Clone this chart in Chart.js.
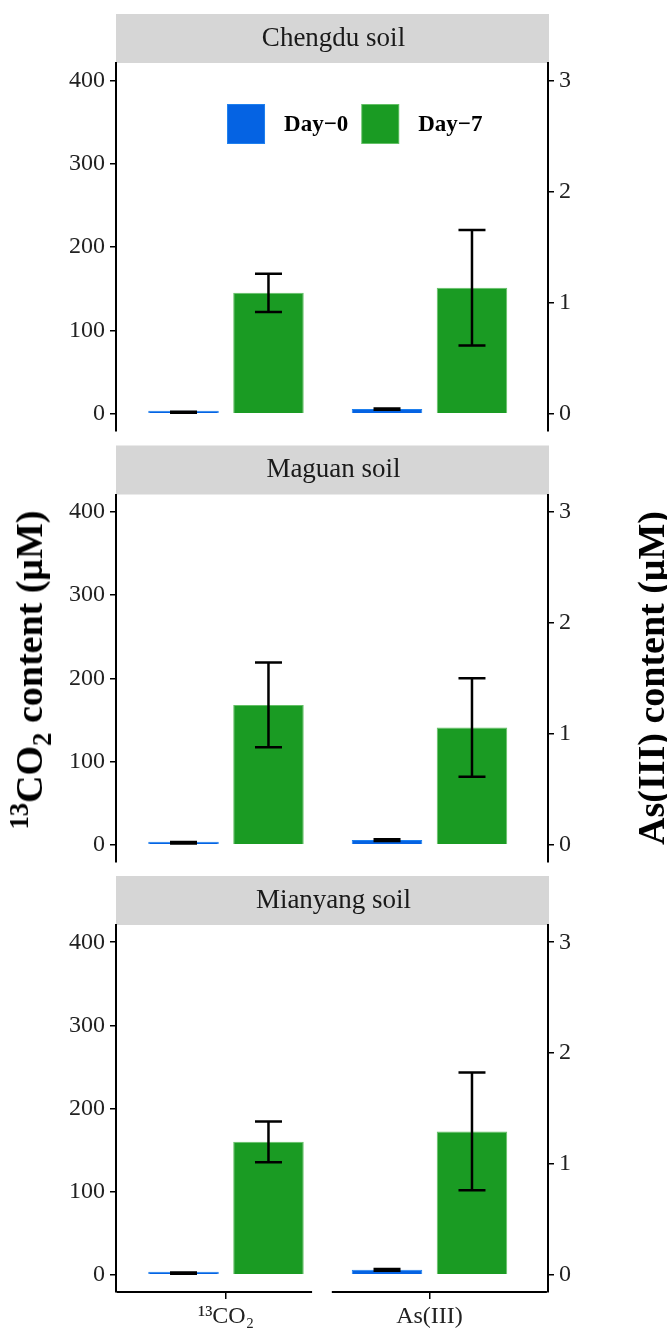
<!DOCTYPE html>
<html>
<head>
<meta charset="utf-8">
<script src="https://cdn.jsdelivr.net/npm/chart.js@4.4.1/dist/chart.umd.min.js"></script>
<style>
  body { margin: 0; background: #fff; width: 667px; height: 1332px; position: relative; overflow: hidden; font-family: "Liberation Serif", "Times New Roman", serif; }
  canvas { position: absolute; left: 0; }
  .ytitle { position: absolute; font-weight: bold; font-size: 38px; line-height: 1; white-space: nowrap; color: #000;
            transform: translate(-50%, -50%) rotate(-90deg); }
  .ytitle sup, .ytitle sub { font-size: 0.7em; line-height: 0; }
</style>
</head>
<body>
<canvas id="p0" width="667" height="440" style="top:0"></canvas>
<canvas id="p1" width="667" height="432" style="top:440px"></canvas>
<canvas id="p2" width="667" height="460" style="top:872px"></canvas>
<div class="ytitle" style="left:29px;top:670px"><sup>13</sup>CO<sub>2</sub> content (μM)</div>
<div class="ytitle" style="left:651px;top:678px">As(III) content (μM)</div>
<script>
// values
const soils = ['Chengdu soil', 'Maguan soil', 'Mianyang soil'];
const categories = ['¹³CO₂', 'As(III)'];
const days = ['Day−0', 'Day−7'];

const co2Day0 = [1.8, 2.4, 2.0];
const co2Day0Err = [0.6, 0.8, 0.8];
const co2Day7 = [145, 168, 160];
const co2Day7Err = [23, 51, 24.5];

const asDay0 = [0.042, 0.042, 0.045];
const asDay0Err = [0.006, 0.008, 0.008];
const asDay7 = [1.134, 1.056, 1.293];
const asDay7Err = [0.52, 0.444, 0.531];

const leftTicks = [0, 100, 200, 300, 400];
const rightTicks = [0, 1, 2, 3];

const blue = '#0563e3', blueEdge = '#1f80ee';
const green = '#1a9b23', greenEdge = '#63c066';
const RATIO = 400 / 3; // left axis units per right axis unit

Chart.defaults.font.family = '"Liberation Serif", "Times New Roman", serif';
Chart.defaults.color = '#222';

// grey strip behind the title, only over the plot width
const stripPlugin = {
  id: 'strip',
  beforeDraw(chart) {
    const t = chart.titleBlock, a = chart.chartArea, ctx = chart.ctx;
    ctx.save();
    ctx.fillStyle = '#d6d6d6';
    ctx.fillRect(a.left, t.top, a.right - a.left + 1, t.height);
    ctx.restore();
  }
};

const errorBars = {
  id: 'errorBars',
  afterDatasetsDraw(chart) {
    const ctx = chart.ctx;
    ctx.save();
    ctx.strokeStyle = '#000';
    ctx.lineWidth = 2.5;
    chart.data.datasets.forEach((ds, i) => {
      const meta = chart.getDatasetMeta(i);
      const ys = chart.scales[meta.yAxisID];
      meta.data.forEach((bar, j) => {
        const v = ds.data[j].y, e = ds.errors[j];
        const top = ys.getPixelForValue(v + e), bot = ys.getPixelForValue(v - e);
        ctx.beginPath();
        ctx.moveTo(bar.x, top); ctx.lineTo(bar.x, bot);
        ctx.moveTo(bar.x - 13.5, top); ctx.lineTo(bar.x + 13.5, top);
        ctx.moveTo(bar.x - 13.5, bot); ctx.lineTo(bar.x + 13.5, bot);
        ctx.stroke();
      });
    });
    ctx.restore();
  }
};

const dayLegend = {
  id: 'dayLegend',
  afterDraw(chart, args, opts) {
    if (!opts.show) return;
    const ctx = chart.ctx, a = chart.chartArea;
    const seen = [];
    chart.data.datasets.forEach(ds => {
      if (!seen.find(s => s.label === ds.label)) seen.push(ds);
    });
    let x = a.left + (a.right - a.left) * 0.257;
    const yc = a.top + 61;
    ctx.save();
    ctx.font = 'bold 23px "Liberation Serif", serif';
    ctx.textBaseline = 'middle';
    seen.forEach(ds => {
      ctx.fillStyle = ds.borderColor;
      ctx.fillRect(x, yc - 20, 38, 40);
      ctx.fillStyle = ds.backgroundColor;
      ctx.fillRect(x + 1, yc - 19, 36, 38);
      x += 38 + 19;
      ctx.fillStyle = '#000';
      ctx.fillText(ds.label, x, yc + 1);
      x += ctx.measureText(ds.label).width + 13;
    });
    ctx.restore();
  }
};

// bottom axis is split between the two groups
const splitAxis = {
  id: 'splitAxis',
  afterDraw(chart, args, opts) {
    if (!opts.segments) return;
    const ctx = chart.ctx, xs = chart.scales.x, y = chart.chartArea.bottom;
    ctx.save();
    ctx.strokeStyle = '#000';
    ctx.lineWidth = 2;
    opts.segments.forEach(s => {
      ctx.beginPath();
      ctx.moveTo(xs.getPixelForValue(s[0]), y);
      ctx.lineTo(xs.getPixelForValue(s[1]), y);
      ctx.stroke();
    });
    ctx.restore();
  }
};

// y tick labels sit well inside the axis range, so no extra end padding
const fitY = w => s => { s.width = w; s.paddingTop = 0; s.paddingBottom = 0; };

const pads = [{ top: 14, bottom: 9 }, { top: 5.5, bottom: 10 }, { top: 4, bottom: 0 }];

soils.forEach((soil, i) => {
  const last = i === soils.length - 1;
  const bar = (label, x, y, err, axis, fill, edge) => ({
    label, data: [{ x, y }], errors: [err], yAxisID: axis,
    backgroundColor: fill, borderColor: edge, borderWidth: 1, minBarLength: 3,
    categoryPercentage: 0.835, barPercentage: 0.83, skipNull: true
  });
  new Chart(document.getElementById('p' + i), {
    type: 'bar',
    data: {
      datasets: [
        bar(days[0], 0, co2Day0[i], co2Day0Err[i], 'y', blue, blueEdge),
        bar(days[1], 0, co2Day7[i], co2Day7Err[i], 'y', green, greenEdge),
        bar(days[0], 1, asDay0[i], asDay0Err[i], 'y2', blue, blueEdge),
        bar(days[1], 1, asDay7[i], asDay7Err[i], 'y2', green, greenEdge)
      ]
    },
    options: {
      responsive: false,
      animation: false,
      devicePixelRatio: 1,
      layout: { padding: { left: 0, right: 0, top: pads[i].top, bottom: pads[i].bottom } },
      plugins: {
        legend: { display: false },
        tooltip: { enabled: false },
        title: {
          display: true, text: soil, color: '#1a1a1a',
          font: { size: 27, weight: 'normal', lineHeight: 1.2 },
          padding: { top: 8.5, bottom: 8.1 }
        },
        dayLegend: { show: i === 0 },
        splitAxis: { segments: last ? [[-0.537, 0.423], [0.52, 1.577]] : null }
      },
      scales: {
        x: {
          type: 'linear', display: last, offset: false,
          min: -0.5405, max: 1.5823,
          afterBuildTicks: s => { s.ticks = categories.map((c, k) => ({ value: k })); },
          ticks: { callback: v => categories[v], font: { size: 24 }, color: '#222', padding: 3, maxRotation: 0 },
          grid: { offset: false, drawOnChartArea: false, drawTicks: true, tickLength: 7, color: '#000', lineWidth: 1.5 },
          border: { display: false },
          afterFit: s => { s.height = last ? 40 : 0; }
        },
        y: {
          position: 'left', min: -20.7, max: 420.7,
          afterBuildTicks: s => { s.ticks = leftTicks.map(v => ({ value: v })); },
          ticks: { font: { size: 24 }, color: '#222', padding: 5 },
          grid: { drawOnChartArea: false, drawTicks: true, tickLength: 6, color: '#000', lineWidth: 1.5 },
          border: { display: true, color: '#000', width: 2 },
          afterFit: fitY(116)
        },
        y2: {
          position: 'right', min: -20.7 / RATIO, max: 420.7 / RATIO,
          afterBuildTicks: s => { s.ticks = rightTicks.map(v => ({ value: v })); },
          ticks: { font: { size: 24 }, color: '#222', padding: 5 },
          grid: { drawOnChartArea: false, drawTicks: true, tickLength: 6, color: '#000', lineWidth: 1.5 },
          border: { display: true, color: '#000', width: 2 },
          afterFit: fitY(119)
        }
      }
    },
    plugins: [stripPlugin, errorBars, dayLegend, splitAxis]
  });
});
</script>
</body>
</html>
